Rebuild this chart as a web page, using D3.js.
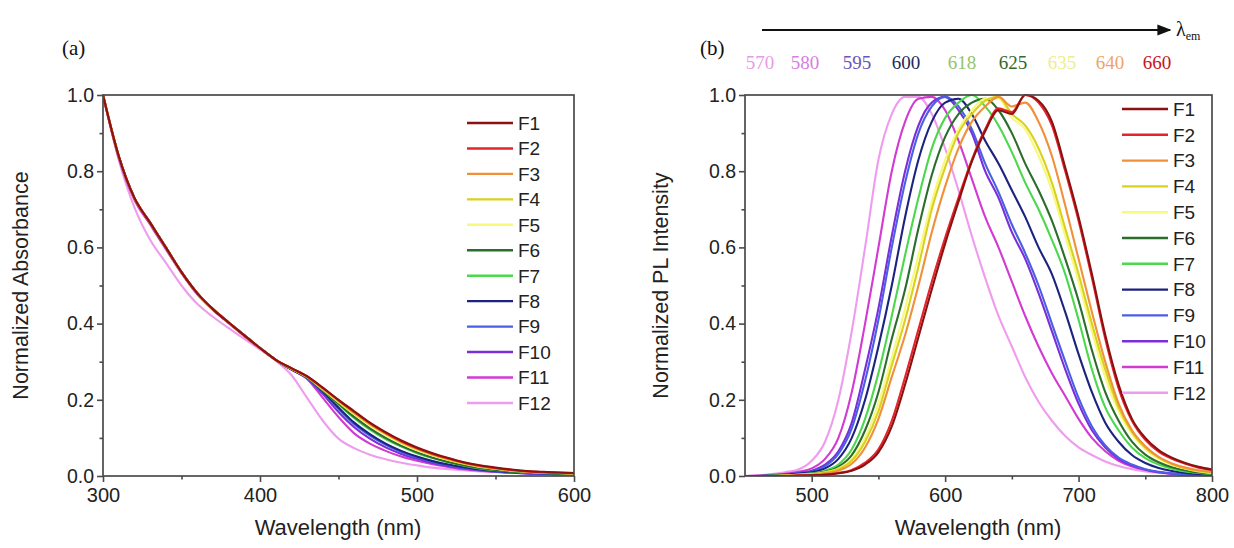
<!DOCTYPE html>
<html><head><meta charset="utf-8">
<script src="https://cdn.jsdelivr.net/npm/d3@7"></script>
<style>body{margin:0;background:#fff}svg{display:block}</style>
</head><body>
<svg id="c" width="1234" height="548"></svg>
<script>
// ---------- DATA ----------
const seriesNames = ["F1","F2","F3","F4","F5","F6","F7","F8","F9","F10","F11","F12"];
const seriesColors = ["#8c1111","#e4242b","#f0903a","#d8d21c","#f8f87a","#2b6e2b","#4cd84c","#1c237e","#4b5ee6","#7a2fd8","#d23ad2","#ef9cef"];

// Panel (a): absorbance, wavelengths 300..600 step 10
const absWl = [300,310,320,330,340,350,360,370,380,390,400,410,420,430,440,450,460,470,480,490,500,510,520,530,540,550,560,570,580,590,600];
const absF1  = [1.0,0.84,0.73,0.665,0.6,0.535,0.48,0.438,0.403,0.369,0.336,0.305,0.283,0.262,0.232,0.2,0.17,0.14,0.115,0.093,0.075,0.06,0.047,0.036,0.028,0.022,0.017,0.013,0.011,0.009,0.008];
const absF2  = [1.0,0.84,0.73,0.665,0.6,0.535,0.48,0.438,0.403,0.369,0.336,0.305,0.283,0.261,0.231,0.199,0.168,0.139,0.113,0.091,0.073,0.058,0.046,0.035,0.027,0.021,0.016,0.012,0.010,0.009,0.008];
const absF3  = [1.0,0.84,0.73,0.665,0.6,0.535,0.48,0.438,0.403,0.369,0.336,0.305,0.282,0.261,0.23,0.198,0.167,0.137,0.112,0.09,0.072,0.057,0.045,0.034,0.026,0.02,0.015,0.012,0.010,0.008,0.007];
const absF4  = [1.0,0.84,0.73,0.665,0.6,0.535,0.48,0.438,0.403,0.369,0.336,0.305,0.282,0.26,0.228,0.196,0.164,0.135,0.11,0.088,0.07,0.055,0.043,0.033,0.025,0.019,0.015,0.011,0.009,0.008,0.007];
const absF5  = [1.0,0.84,0.73,0.665,0.6,0.535,0.48,0.438,0.403,0.369,0.336,0.305,0.282,0.26,0.227,0.194,0.162,0.133,0.108,0.086,0.068,0.054,0.042,0.032,0.024,0.019,0.014,0.011,0.009,0.008,0.007];
const absF6  = [1.0,0.84,0.73,0.665,0.6,0.535,0.48,0.438,0.403,0.369,0.336,0.305,0.281,0.259,0.225,0.19,0.155,0.125,0.1,0.079,0.062,0.048,0.037,0.028,0.021,0.016,0.012,0.01,0.008,0.007,0.006];
const absF7  = [1.0,0.84,0.73,0.665,0.6,0.535,0.48,0.438,0.403,0.369,0.336,0.305,0.281,0.259,0.225,0.188,0.152,0.122,0.097,0.077,0.06,0.047,0.036,0.027,0.02,0.015,0.012,0.009,0.008,0.007,0.006];
const absF8  = [1.0,0.84,0.73,0.665,0.6,0.535,0.48,0.438,0.403,0.369,0.336,0.305,0.28,0.258,0.222,0.18,0.14,0.11,0.085,0.066,0.051,0.039,0.03,0.023,0.017,0.013,0.01,0.008,0.007,0.006,0.005];
const absF9  = [1.0,0.84,0.73,0.665,0.6,0.535,0.48,0.438,0.403,0.369,0.336,0.305,0.28,0.257,0.22,0.176,0.136,0.106,0.082,0.063,0.049,0.037,0.028,0.021,0.016,0.012,0.009,0.007,0.006,0.005,0.005];
const absF10 = [1.0,0.84,0.73,0.665,0.6,0.535,0.48,0.438,0.403,0.369,0.336,0.305,0.28,0.256,0.215,0.168,0.128,0.098,0.075,0.058,0.045,0.034,0.026,0.02,0.015,0.011,0.009,0.007,0.006,0.005,0.005];
const absF11 = [1.0,0.835,0.725,0.66,0.595,0.532,0.477,0.436,0.401,0.367,0.335,0.305,0.279,0.255,0.205,0.155,0.112,0.085,0.066,0.051,0.04,0.031,0.024,0.018,0.014,0.011,0.009,0.007,0.006,0.005,0.005];
const absF12 = [1.0,0.83,0.705,0.62,0.56,0.5,0.452,0.418,0.388,0.36,0.332,0.303,0.265,0.205,0.145,0.098,0.073,0.056,0.044,0.035,0.028,0.022,0.018,0.015,0.012,0.01,0.009,0.008,0.007,0.006,0.006];
const absSeries = [absF1,absF2,absF3,absF4,absF5,absF6,absF7,absF8,absF9,absF10,absF11,absF12];

// Panel (b): PL, wavelengths 450..800 step 10
const plWl = [450,460,470,480,490,500,510,520,530,540,550,560,570,580,590,600,610,620,630,640,650,660,670,680,690,700,710,720,730,740,750,760,770,780,790,800];
const plF1  = [0,0,0,0,0.001,0.002,0.003,0.007,0.014,0.03,0.062,0.13,0.24,0.365,0.49,0.61,0.72,0.825,0.905,0.96,0.95,1.0,0.985,0.93,0.81,0.68,0.53,0.37,0.24,0.15,0.1,0.068,0.048,0.034,0.024,0.017];
const plF2  = [0,0,0,0,0.001,0.002,0.004,0.008,0.016,0.035,0.07,0.145,0.26,0.385,0.51,0.625,0.73,0.83,0.91,0.965,0.955,1.0,0.98,0.92,0.8,0.67,0.52,0.36,0.23,0.145,0.095,0.064,0.045,0.032,0.022,0.016];
const plF3  = [0,0,0,0.001,0.002,0.003,0.007,0.014,0.032,0.075,0.15,0.26,0.37,0.5,0.64,0.76,0.86,0.93,0.97,0.995,0.97,0.98,0.93,0.84,0.71,0.57,0.43,0.3,0.19,0.12,0.078,0.05,0.033,0.022,0.015,0.01];
const plF4  = [0,0,0,0.001,0.002,0.004,0.009,0.018,0.04,0.09,0.17,0.29,0.41,0.55,0.7,0.81,0.9,0.95,0.985,0.995,0.95,0.92,0.86,0.77,0.65,0.53,0.4,0.28,0.18,0.115,0.074,0.048,0.031,0.02,0.013,0.009];
const plF5  = [0,0,0,0.001,0.003,0.005,0.01,0.02,0.045,0.1,0.19,0.31,0.44,0.58,0.72,0.83,0.91,0.96,0.99,0.99,0.94,0.91,0.84,0.75,0.63,0.51,0.38,0.26,0.17,0.11,0.07,0.045,0.029,0.019,0.012,0.008];
const plF6  = [0,0,0,0.002,0.003,0.006,0.011,0.024,0.055,0.12,0.22,0.36,0.49,0.65,0.79,0.89,0.95,0.98,0.99,0.96,0.9,0.82,0.75,0.67,0.57,0.46,0.33,0.22,0.145,0.09,0.056,0.036,0.023,0.015,0.009,0.006];
const plF7  = [0,0,0.001,0.002,0.004,0.007,0.014,0.03,0.07,0.15,0.27,0.42,0.58,0.73,0.86,0.94,0.98,1.0,0.97,0.92,0.85,0.77,0.7,0.62,0.53,0.41,0.28,0.18,0.12,0.075,0.047,0.03,0.019,0.012,0.008,0.005];
const plF8  = [0,0,0.001,0.003,0.006,0.01,0.02,0.045,0.1,0.2,0.34,0.5,0.68,0.83,0.93,0.98,0.99,0.95,0.88,0.82,0.75,0.68,0.6,0.53,0.43,0.32,0.22,0.14,0.09,0.055,0.034,0.021,0.013,0.008,0.005,0.003];
const plF9  = [0,0,0.002,0.004,0.007,0.012,0.026,0.058,0.125,0.25,0.41,0.6,0.77,0.9,0.97,0.995,0.97,0.91,0.82,0.745,0.66,0.585,0.5,0.4,0.3,0.205,0.13,0.08,0.048,0.03,0.018,0.011,0.007,0.004,0.002,0.001];
const plF10 = [0,0,0.002,0.004,0.008,0.014,0.03,0.065,0.14,0.28,0.44,0.63,0.8,0.92,0.98,0.995,0.96,0.9,0.8,0.73,0.64,0.57,0.48,0.38,0.28,0.19,0.12,0.075,0.045,0.028,0.017,0.01,0.006,0.004,0.002,0.001];
const plF11 = [0,0.001,0.003,0.006,0.011,0.02,0.045,0.1,0.22,0.4,0.6,0.8,0.93,0.99,0.995,0.96,0.88,0.78,0.68,0.6,0.51,0.42,0.34,0.27,0.21,0.15,0.1,0.065,0.04,0.025,0.016,0.01,0.006,0.004,0.002,0.001];
const plF12 = [0,0.002,0.005,0.01,0.017,0.04,0.09,0.2,0.38,0.6,0.83,0.95,0.995,0.995,0.95,0.86,0.75,0.63,0.52,0.42,0.34,0.26,0.195,0.145,0.105,0.075,0.055,0.038,0.026,0.018,0.012,0.008,0.005,0.003,0.002,0.001];
const plSeries = [plF1,plF2,plF3,plF4,plF5,plF6,plF7,plF8,plF9,plF10,plF11,plF12];

const xTicksA = [300,400,500,600];
const xTicksB = [500,600,700,800];
const yTicks = [0,0.2,0.4,0.6,0.8,1.0];

const emLabels = ["570","580","595","600","618","625","635","640","660"];
const emColors = ["#e79be7","#d77ee3","#6a55b8","#1d2a5c","#95c46a","#2f6a2f","#eeee90","#eea468","#c4161e"];

// ---------- DRAW ----------
const svg = d3.select("#c");
const axisColor = "#4a4a4a";
const font = "'Liberation Sans', Arial, sans-serif";
const serif = "'Liberation Serif', 'Times New Roman', serif";

function panel(opts) {
  const {x0,x1,y0,y1,xDomain,xTicks,xMinor,wl,series,yTitle,tag,tagX,legX,legY0,legStep,xTitleX,yTitleX} = opts;
  const x = d3.scaleLinear().domain(xDomain).range([x0,x1]);
  const y = d3.scaleLinear().domain([0,1]).range([y1,y0]);
  const g = svg.append("g");
  const clipId = "clip"+tag;
  svg.append("clipPath").attr("id",clipId).append("rect").attr("x",x0).attr("y",y0-2).attr("width",x1-x0).attr("height",y1-y0+2);

  const line = d3.line().x((d,i)=>x(wl[i])).y(d=>y(d)).curve(d3.curveMonotoneX);
  const lg = g.append("g").attr("clip-path",`url(#${clipId})`);
  for (let k = series.length-1; k >= 0; k--) {
    lg.append("path").attr("d", line(series[k])).attr("fill","none")
      .attr("stroke", seriesColors[k]).attr("stroke-width",2.1).attr("stroke-linejoin","round");
  }

  g.append("rect").attr("x",x0).attr("y",y0).attr("width",x1-x0).attr("height",y1-y0)
    .attr("fill","none").attr("stroke",axisColor).attr("stroke-width",1.7);

  const xa = g.append("g").attr("transform",`translate(0,${y1})`)
    .call(d3.axisBottom(x).tickValues(xTicks).tickSize(6).tickFormat(d3.format("d")));
  xa.select(".domain").remove();
  xa.selectAll("line").attr("stroke",axisColor).attr("stroke-width",1.6);
  xa.selectAll("text").attr("font-family",font).attr("font-size",20).attr("fill","#222").attr("dy","0.85em");
  const xm = g.append("g").attr("transform",`translate(0,${y1})`)
    .call(d3.axisBottom(x).tickValues(xMinor).tickSize(3.5).tickFormat(""));
  xm.select(".domain").remove();
  xm.selectAll("line").attr("stroke",axisColor).attr("stroke-width",1.6);

  const ya = g.append("g").attr("transform",`translate(${x0},0)`)
    .call(d3.axisLeft(y).tickValues(yTicks).tickSize(6).tickFormat(d3.format(".1f")));
  ya.select(".domain").remove();
  ya.selectAll("line").attr("stroke",axisColor).attr("stroke-width",1.6);
  ya.selectAll("text").attr("font-family",font).attr("font-size",19.5).attr("fill","#222").attr("dx","0");
  const ym = g.append("g").attr("transform",`translate(${x0},0)`)
    .call(d3.axisLeft(y).tickValues([0.1,0.3,0.5,0.7,0.9]).tickSize(3.5).tickFormat(""));
  ym.select(".domain").remove();
  ym.selectAll("line").attr("stroke",axisColor).attr("stroke-width",1.6);

  g.append("text").attr("x",xTitleX).attr("y",535).attr("text-anchor","middle")
    .attr("font-family",font).attr("font-size",22).attr("fill","#222").text("Wavelength (nm)");
  g.append("text").attr("transform",`translate(${yTitleX},${(y0+y1)/2}) rotate(-90)`)
    .attr("text-anchor","middle").attr("font-family",font).attr("font-size",21.5).attr("fill","#222").text(yTitle);
  g.append("text").attr("x",tagX).attr("y",55).attr("font-family",serif).attr("font-size",21).attr("fill","#111").text(`(${tag})`);

  const leg = g.append("g");
  seriesNames.forEach((n,k)=>{
    const yy = legY0 + k*legStep;
    leg.append("line").attr("x1",legX).attr("x2",legX+46).attr("y1",yy).attr("y2",yy)
      .attr("stroke",seriesColors[k]).attr("stroke-width",2.4);
    leg.append("text").attr("x",legX+51).attr("y",yy).attr("dy","0.36em")
      .attr("font-family",font).attr("font-size",19).attr("fill","#222").text(n);
  });
  return {x,y};
}

panel({x0:103,x1:574,y0:95,y1:476,xDomain:[300,600],xTicks:xTicksA,xMinor:[350,450,550],
  wl:absWl,series:absSeries,yTitle:"Normalized Absorbance",tag:"a",tagX:62,
  legX:467,legY0:123,legStep:25.45,xTitleX:338,yTitleX:28});

panel({x0:745,x1:1212,y0:95,y1:476,xDomain:[450,800],xTicks:xTicksB,xMinor:[550,650,750],
  wl:plWl,series:plSeries,yTitle:"Normalized PL Intensity",tag:"b",tagX:700,
  legX:1122,legY0:109,legStep:25.8,xTitleX:978,yTitleX:668});

const defs = svg.append("defs");
defs.append("marker").attr("id","arr").attr("viewBox","0 0 10 10").attr("refX",9).attr("refY",5)
  .attr("markerWidth",7).attr("markerHeight",7).attr("orient","auto")
  .append("path").attr("d","M0,1 L10,5 L0,9 Z").attr("fill","#111");
svg.append("line").attr("x1",762).attr("x2",1170).attr("y1",30).attr("y2",30)
  .attr("stroke","#111").attr("stroke-width",2).attr("marker-end","url(#arr)");
const lam = svg.append("text").attr("x",1176).attr("y",36).attr("font-family",serif).attr("font-size",20).attr("fill","#111");
lam.append("tspan").text("λ");
lam.append("tspan").attr("font-size",12).attr("dy",4).text("em");

const emPos = [760,805,857,906,962,1013,1062,1110,1157];
emLabels.forEach((t,i)=>{
  svg.append("text").attr("x",emPos[i]).attr("y",69).attr("text-anchor","middle")
    .attr("font-family",serif).attr("font-size",19).attr("fill",emColors[i]).text(t);
});
</script>
</body></html>
